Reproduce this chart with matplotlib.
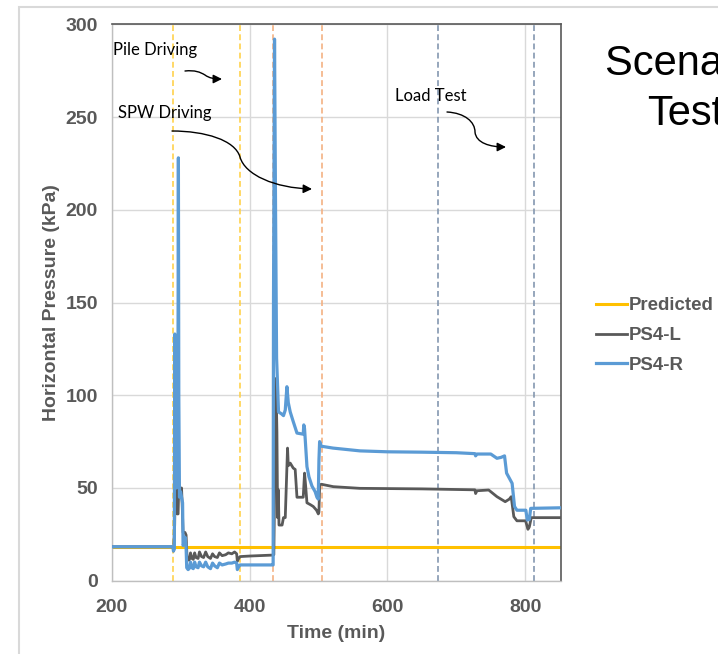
import matplotlib
matplotlib.use("Agg")
import matplotlib.pyplot as plt
from matplotlib.path import Path
from matplotlib.patches import FancyArrowPatch, Rectangle

# time (min) and horizontal pressure (kPa) for each cell
ps4l_t = [200, 288.5, 289.5, 291, 292.5, 293.5, 294.8, 296, 297, 298.5, 299.5, 301, 302, 303.2,
          306, 307.6, 309, 310.5, 312, 314, 316, 318, 320, 322, 325, 327, 330, 333, 336, 339,
          343, 346, 349, 353, 356, 360, 365, 369, 374, 378, 381, 382, 384, 386, 400, 433,
          435, 436.5, 438, 439.5, 440.5, 441.5, 442.5, 447, 449, 451.6, 454.9, 456, 458.8,
          463.2, 466, 468.6, 477.7, 479.6, 481, 483.1, 488, 492.3, 497, 499.6, 500.5, 501.5,
          504, 521.4, 560, 650, 727, 728, 730, 747, 759, 771, 777, 779.7, 783.5, 788, 800.6,
          804, 806, 808.8, 850]
ps4l_p = [18.3, 18.3, 16, 30, 67, 45, 36, 36, 52, 50, 46, 50, 40, 26,
          26, 24.6, 12, 12, 11, 15, 12, 11.5, 15, 12.5, 12, 15.5, 13, 12.5, 15.5, 13,
          12, 14.5, 13, 12.5, 15, 13.5, 14, 15, 14.5, 15.5, 14.5, 10.5, 12, 13, 13.3, 13.8,
          14, 60, 109, 80, 34, 49, 30, 30, 34, 34, 71.5, 62, 63.4,
          60.7, 60, 45, 45, 58, 52, 42, 41, 40, 38, 36, 37, 51.6,
          52, 50.7, 49.8, 49.5, 49, 47, 48.5, 48.9, 45.3, 42.6, 44, 45.3, 34.5, 32.3, 32.3,
          27.7, 29, 34, 34]

ps4r_t = [200, 288.5, 289.2, 290.5, 291.2, 292, 293.5, 295.5, 296.4, 297, 298, 299.5, 301.5,
          302.5, 303.2, 304.5, 306, 307.5, 308.5, 310.5, 312, 314, 316, 318, 320, 322, 325,
          327, 330, 333, 336, 339, 343, 346, 349, 353, 356, 360, 365, 369, 374, 378, 381,
          382, 384, 386, 433, 434, 434.5, 436, 437.5, 439, 441.8, 446, 449, 451.6, 454, 456,
          458.8, 463, 468.6, 477.7, 478.5, 479.6, 483.1, 486, 490.4, 495, 497.6, 499.5,
          500.5, 501.5, 504, 521, 560, 600, 650, 700, 727, 728, 730, 750, 759, 765, 770,
          773, 781, 784.5, 788, 801, 803, 806, 808, 850]
ps4r_p = [18.3, 18.3, 16, 17, 133, 60, 50, 55, 228, 100, 45, 48, 44,
          42, 19, 20, 23.5, 19, 7, 6, 6.5, 10, 7, 6.5, 10, 7.5, 7,
          10, 8, 7.5, 10, 7.5, 6.5, 9.5, 8, 7, 9.5, 8.5, 9, 9.5, 9.5, 10, 9.5,
          6, 7.5, 8.5, 8.5, 8.5, 150, 292, 200, 120, 91, 90, 89, 92, 104.6, 96,
          91, 86, 79.6, 79, 84, 82, 61.5, 56, 51, 48, 45, 44,
          65, 75, 72.5, 71.5, 70, 69.5, 69.3, 69, 68.5, 67.3, 68.3, 68.3, 66, 66.5, 67.3,
          58, 52.5, 40, 38, 38, 32.7, 33, 39, 39.3]

pred_t = [200, 850]
pred_p = [18, 18]

# stage boundaries (min)
pile_driving = [288.7, 386.3]
spw_driving = [434.3, 504.7]
load_test = [672.7, 812.8]

W, H = 718, 654
fig = plt.figure(figsize=(W / 100, H / 100), dpi=100)
ax = fig.add_axes([112 / W, 1 - 580.7 / H, (561 - 112) / W, (580.7 - 24.3) / H])

grey = "#595959"

for xs, c in [(pile_driving, "#FFD24D"), (spw_driving, "#F4B183"), (load_test, "#8497B0")]:
    for x in xs:
        ax.axvline(x, color=c, lw=1.2, dashes=(3.5, 2), zorder=1)

ax.plot(pred_t, pred_p, color="#FFC000", lw=2.2, label="Predicted", zorder=2)
ax.plot(ps4l_t, ps4l_p, color=grey, lw=2.0, label="PS4-L", zorder=3)
ax.plot(ps4r_t, ps4r_p, color="#5B9BD5", lw=2.3, label="PS4-R", zorder=4)

ax.set_xlim(200, 852)
ax.set_ylim(0, 300)
ax.set_xticks([200, 400, 600, 800])
ax.set_yticks(range(0, 301, 50))
ax.grid(True, color="#D9D9D9", lw=1.0, zorder=0)
ax.set_axisbelow(True)
ax.tick_params(length=0, labelsize=14, labelcolor=grey)
ax.tick_params(axis="y", pad=10)
ax.tick_params(axis="x", pad=13)
for lab in ax.get_xticklabels() + ax.get_yticklabels():
    lab.set_fontweight("bold")
    lab.set_family("Liberation Sans")
for s in ["left", "bottom"]:
    ax.spines[s].set_color("#BFBFBF")
    ax.spines[s].set_linewidth(1.0)
for s in ["top", "right"]:
    ax.spines[s].set_color(grey)
    ax.spines[s].set_linewidth(1.2)

ax.set_xlabel("Time (min)", fontsize=14, fontweight="bold", color=grey,
              family="Liberation Sans", labelpad=7)
ax.set_ylabel("Horizontal Pressure (kPa)", fontsize=14, fontweight="bold", color=grey,
              family="Liberation Sans", labelpad=4)

leg = fig.legend(loc="upper left", bbox_to_anchor=(589 / W, 1 - 290 / H), frameon=False,
                 handlelength=1.65, handletextpad=0.1, labelspacing=0.68,
                 borderaxespad=0, borderpad=0.4,
                 prop={"family": "Liberation Sans", "weight": "bold", "size": 13.4})
for t in leg.get_texts():
    t.set_color(grey)

# title, partly cut off at the right edge
fig.text(605 / W, 1 - 75 / H, "Scenario 4", fontsize=30, family="Liberation Sans",
         color="black", va="baseline")
fig.text(647 / W, 1 - 125 / H, "Test", fontsize=30, family="Liberation Sans",
         color="black", va="baseline")

# stage notes
note = dict(fontsize=12, family="Lato", color="black", va="center", ha="left")
fig.text(113 / W, 1 - 50 / H, "Pile Driving", **note)
fig.text(118 / W, 1 - 113 / H, "SPW Driving", **note)
fig.text(395 / W, 1 - 96 / H, "Load Test", **note)


def px(x, y):
    return (x / W, 1 - y / H)


def curvy_arrow(pts):
    verts = [px(*p) for p in pts]
    codes = [Path.MOVETO] + [Path.CURVE4] * (len(verts) - 1)
    arr = FancyArrowPatch(path=Path(verts, codes), arrowstyle="-|>", mutation_scale=13,
                          color="black", lw=1.0, transform=fig.transFigure)
    fig.patches.append(arr)


curvy_arrow([(185, 71), (195, 70), (200, 72), (205, 75),
             (209, 78), (214, 79), (222, 79)])
curvy_arrow([(172, 131), (205, 131), (235, 140), (240, 157),
             (245, 175), (275, 188), (312, 189)])
curvy_arrow([(447, 112), (465, 113), (475, 122), (475, 132),
             (476, 143), (490, 147), (506, 147)])

# chart area frame
fig.patches.append(Rectangle(px(19, 700), 760 / W, 693 / H, transform=fig.transFigure,
                             fill=False, edgecolor="#D9D9D9", lw=1.5))

fig.savefig("out.png", dpi=100)
